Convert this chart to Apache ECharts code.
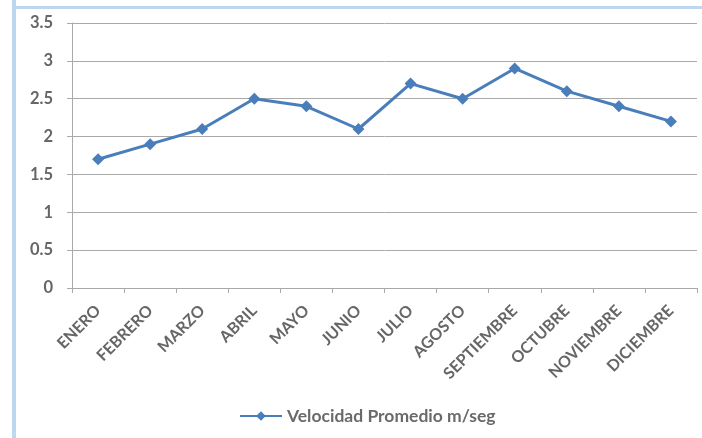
<!DOCTYPE html>
<html>
<head>
<meta charset="utf-8">
<script src="https://cdn.jsdelivr.net/npm/echarts@6/dist/echarts.min.js"></script>
<style>
  html, body { margin: 0; padding: 0; background: #fff; }
  #chart { width: 702px; height: 438px; }
</style>
</head>
<body>
<div id="chart"></div>
<script>
const months = ['ENERO', 'FEBRERO', 'MARZO', 'ABRIL', 'MAYO', 'JUNIO', 'JULIO',
  'AGOSTO', 'SEPTIEMBRE', 'OCTUBRE', 'NOVIEMBRE', 'DICIEMBRE'];
const velocidad = [1.7, 1.9, 2.1, 2.5, 2.4, 2.1, 2.7, 2.5, 2.9, 2.6, 2.4, 2.2];
const seriesName = 'Velocidad Promedio m/seg';

const chart = echarts.init(document.getElementById('chart'));
const font = 'Lato, "Open Sans", sans-serif';

chart.setOption({
  backgroundColor: '#fff',
  animation: false,
  graphic: [
    // light blue frame on the left and top
    { type: 'rect', left: 12, top: 0, shape: { width: 4, height: 438 }, style: { fill: '#bdd7ee' } },
    { type: 'rect', left: 12, top: 6, shape: { width: 690, height: 3 }, style: { fill: '#bdd7ee' } }
  ],
  grid: { left: 72, right: 5, top: 23, bottom: 150 },
  legend: {
    bottom: 8,
    left: 234,
    itemWidth: 42,
    itemHeight: 12,
    itemGap: 4,
    textStyle: { fontFamily: font, fontSize: 17.5, fontWeight: 'bold', color: '#6a6a6a' },
    data: [seriesName]
  },
  xAxis: {
    type: 'category',
    data: months,
    boundaryGap: true,
    axisLine: { lineStyle: { color: '#aaaaaa', width: 1 } },
    axisTick: { show: true, length: 5, lineStyle: { color: '#aaaaaa' } },
    axisLabel: {
      interval: 0,
      rotate: 45,
      margin: 20,
      fontFamily: font,
      fontSize: 16,
      fontWeight: 'bold',
      color: '#666666'
    }
  },
  yAxis: {
    type: 'value',
    min: 0,
    max: 3.5,
    interval: 0.5,
    axisLine: { show: true, lineStyle: { color: '#aaaaaa' } },
    axisTick: { show: true, length: 5, lineStyle: { color: '#aaaaaa' } },
    splitLine: { lineStyle: { color: '#aaaaaa', width: 1 } },
    axisLabel: {
      margin: 19,
      fontFamily: font,
      fontSize: 16.5,
      fontWeight: 'bold',
      color: '#666666'
    }
  },
  series: [{
    name: seriesName,
    type: 'line',
    data: velocidad,
    symbol: 'diamond',
    symbolSize: 12,
    lineStyle: { color: '#4a7ebb', width: 3 },
    itemStyle: { color: '#4a7ebb' }
  }]
});
</script>
</body>
</html>
